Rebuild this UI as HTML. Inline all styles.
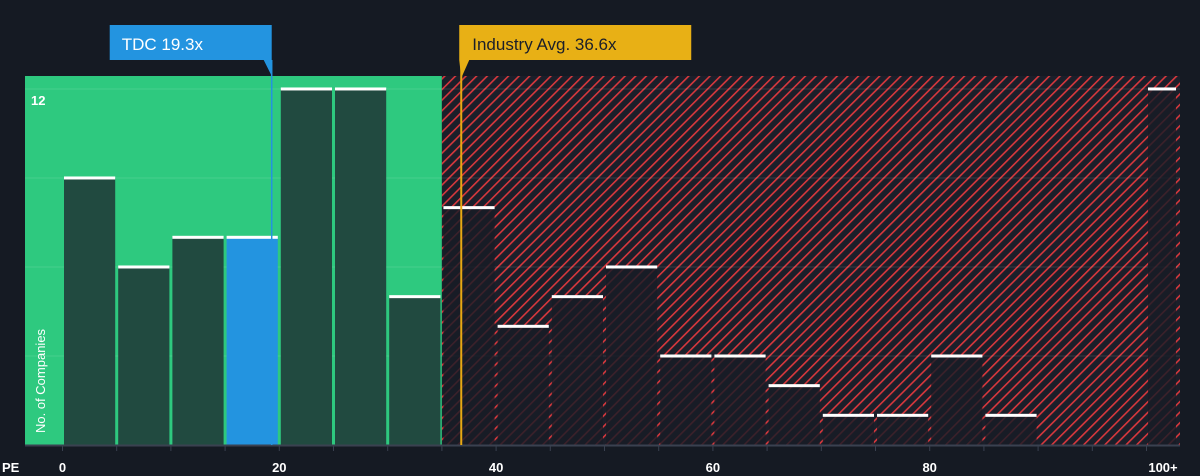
<!DOCTYPE html>
<html><head><meta charset="utf-8"><style>
html,body{margin:0;padding:0;background:#151a23;}
svg{display:block;font-family:"Liberation Sans",sans-serif;}
</style></head><body>
<svg id="chart" width="1200" height="476">
<defs>
<pattern id="hatch" patternUnits="userSpaceOnUse" width="7.5" height="7.5" patternTransform="rotate(45)">
<rect width="7.5" height="7.5" fill="#1b1f2a"/>
<rect x="0" y="0" width="1.6" height="7.5" fill="#d8383d"/>
</pattern>
</defs>
<g id="bg"></g>
<g id="bars"></g>
<g id="overlay"></g>
</svg>
<script>
const binStarts=[0,5,10,15,20,25,30,35,40,45,50,55,60,65,70,75,80,85,90,95,100];
const counts=[9,6,7,7,12,12,5,8,4,5,6,3,3,2,1,1,3,1,0,0,12];
const xTicks=[0,20,40,60,80];
const xTickLabels=["0","20","40","60","80"];
const companyPE=19.3;
const industryPE=36.6;
const yMaxLabel=12;

const NS="http://www.w3.org/2000/svg";
const svg=document.getElementById('chart');
function x(v){return 62.5+v*10.84;}
function y(v){return 445-v*29.67;}
function el(tag,attrs,parent){const e=document.createElementNS(NS,tag);for(const k in attrs)e.setAttribute(k,attrs[k]);parent.appendChild(e);return e;}
const bg=document.getElementById('bg'),bars=document.getElementById('bars'),ov=document.getElementById('overlay');

let g=el('rect',{x:25,y:76,width:x(35)-25,height:445-76,fill:'#2ec97f'},bg);

let r=el('rect',{x:x(35),y:76,width:1180-x(35),height:445-76,fill:'url(#hatch)'},bg);

[3,6,9,12].forEach(v=>{const l=el('line',{x1:25,x2:1180,y1:y(v),y2:y(v),stroke:'rgba(255,255,255,0.12)','stroke-width':1},bg);
});

binStarts.forEach((b,i)=>{
  const c=counts[i]; if(c<=0)return;
  let x0,x1;
  if(b>=100){x0=1148;x1=1176;}else{x0=x(b)+1.5;x1=x(b+5)-1.5;}
  const inGreen=b<35;
  const isCompany=companyPE>=b&&companyPE<b+5;
  let fill=isCompany?'#2394e0':(inGreen?'#214a40':'rgba(24,28,38,0.82)');
  const rc=el('rect',{x:x0,y:y(c),width:x1-x0,height:445-y(c),fill:fill},bars);
  
  
  const cap=el('rect',{x:x0,y:y(c)-1.5,width:x1-x0,height:3,fill:'#ffffff'},bars);
  
  
});

let ax=el('line',{x1:25,x2:1180,y1:445.5,y2:445.5,stroke:'#3a4150','stroke-width':2},ov);

for(let v=0;v<=100;v+=5){const t=el('line',{x1:x(v),x2:x(v),y1:446,y2:451,stroke:'#3a4150','stroke-width':1},ov);
}
xTicks.forEach((v,i)=>{const t=el('text',{x:x(v),y:472,fill:'#ffffff','font-size':13,'text-anchor':'middle','font-weight':'bold'},ov);t.textContent=xTickLabels[i];
});
let t100=el('text',{x:1163,y:472,fill:'#fff','font-size':13,'text-anchor':'middle','font-weight':'bold'},ov);t100.textContent='100+';

let pe=el('text',{x:2,y:472,fill:'#fff','font-size':13,'font-weight':'bold'},ov);pe.textContent='PE';

let yl=el('text',{x:31,y:105,fill:'#fff','font-size':13,'font-weight':'bold'},ov);yl.textContent=yMaxLabel;

let yt=el('text',{x:0,y:0,fill:'#fff','font-size':13,transform:'translate(45,433) rotate(-90)'},ov);yt.textContent='No. of Companies';


// company marker
const cx=x(companyPE);
let cl=el('line',{x1:cx,x2:cx,y1:60,y2:445,stroke:'#2394e0','stroke-width':1.5},ov);

let cb=el('path',{d:`M${cx-162} 25 h162 v35 h-162 z M${cx-8} 60 L${cx} 76 L${cx} 60 z`,fill:'#2394e0'},ov);

let ct=el('text',{x:cx-150,y:50,fill:'#fff','font-size':17},ov);ct.textContent='TDC '+companyPE+'x';


// industry marker
const ix=x(industryPE)+2;
let il=el('line',{x1:ix,x2:ix,y1:60,y2:445,stroke:'#e8a913','stroke-width':2},ov);

let ib=el('path',{d:`M${ix-2} 25 h232 v35 h-232 z M${ix-2} 60 L${ix} 78 L${ix+8} 60 z`,fill:'#e8b015'},ov);

let it=el('text',{x:ix+11,y:50,fill:'#1b1f2a','font-size':17},ov);it.textContent='Industry Avg. '+industryPE+'x';

</script>
</body></html>
